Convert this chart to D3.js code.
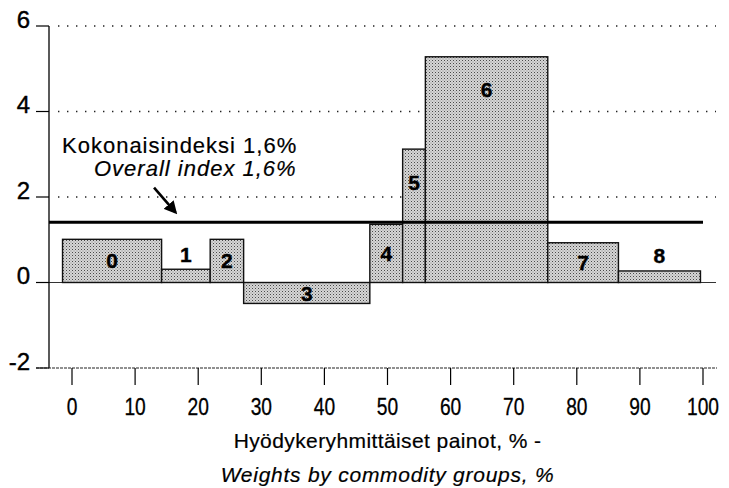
<!DOCTYPE html>
<html><head><meta charset="utf-8">
<script src="https://cdn.jsdelivr.net/npm/d3@7"></script>
<style>
html,body{margin:0;padding:0;background:#fff;}
svg{display:block;font-family:"Liberation Sans",Arial,Helvetica,sans-serif;}
</style></head>
<body>
<svg id="chart" width="729" height="488"></svg>
<script>
// ---- data ----
const groups  = ["0","1","2","3","4","5","6","7","8"];
const weights = [15.7, 7.7, 5.3, 20.0, 5.2, 3.6, 19.4, 11.2, 13.0];   // % weight (bar width)
const changes = [1.01, 0.31, 1.01, -0.49, 1.36, 3.12, 5.28, 0.93, 0.27]; // % change (bar height)
const barStart = -1.5;          // where the first bar begins on the weight axis
const overallIndex = 1.41;      // drawn level of the overall index line
const xTicks = [0,10,20,30,40,50,60,70,80,90,100];
const yTicks = [-2,0,2,4,6];
const gridValues = [2,4,6];
const annotFi = "Kokonaisindeksi  1,6%";
const annotEn = "Overall index 1,6%";
const xTitleFi = "Hyödykeryhmittäiset painot, % -";
const xTitleEn = "Weights by commodity groups, %";

// ---- layout ----
const svg = d3.select("#chart");
const x = d3.scaleLinear().domain([0,100]).range([72,703]);
const y = d3.scaleLinear().domain([-2,6]).range([368,26]);
const axisX = 49;

// stipple pattern
const defs = svg.append("defs");
const pat = defs.append("pattern").attr("id","dots").attr("patternUnits","userSpaceOnUse")
  .attr("width",3).attr("height",3);
pat.append("rect").attr("width",3).attr("height",3).attr("fill","#d6d6d6");
pat.append("rect").attr("x",0).attr("y",0).attr("width",1).attr("height",1).attr("fill","#4a4a4a");
pat.append("rect").attr("x",1.5).attr("y",1.5).attr("width",1).attr("height",1).attr("fill","#888");

// gridlines (dotted)
svg.append("g").selectAll("line").data(gridValues).join("line")
  .attr("x1",58).attr("x2",716)
  .attr("y1",d=>y(d)).attr("y2",d=>y(d))
  .attr("stroke","#222").attr("stroke-width",1.3)
  .attr("stroke-dasharray","1.4 7.6");

// bars
let acc = barStart;
const bars = groups.map((g,i)=>{ const b={g, x0:acc, x1:acc+weights[i], v:changes[i]}; acc+=weights[i]; return b; });

// zero line
svg.append("line").attr("x1",36).attr("x2",716).attr("y1",y(0)).attr("y2",y(0))
  .attr("stroke","#333").attr("stroke-width",1.2);

svg.append("g").selectAll("rect").data(bars).join("rect")
  .attr("x",d=>x(d.x0)).attr("width",d=>x(d.x1)-x(d.x0))
  .attr("y",d=>y(Math.max(0,d.v))).attr("height",d=>Math.abs(y(d.v)-y(0)))
  .attr("fill","url(#dots)").attr("stroke","#111").attr("stroke-width",1.4);

// bar labels
svg.append("g").selectAll("text").data(bars).join("text")
  .attr("x",d=>(x(d.x0)+x(d.x1))/2)
  .attr("y",d=>{
    const top=y(Math.max(0,d.v)), h=Math.abs(y(d.v)-y(0));
    if (d.v<0) return top+h/2+1;
    if (h<20) return top-15;
    return top+Math.min(h/2,33);
  })
  .attr("text-anchor","middle").attr("dominant-baseline","central")
  .attr("font-size",21).attr("font-weight","bold").attr("fill","#000")
  .attr("stroke","#000").attr("stroke-width",0.4)
  .text(d=>d.g);

// overall index line
svg.append("line").attr("x1",axisX).attr("x2",x(100))
  .attr("y1",y(overallIndex)).attr("y2",y(overallIndex))
  .attr("stroke","#000").attr("stroke-width",3);

// y axis
svg.append("line").attr("x1",axisX).attr("x2",axisX).attr("y1",y(6)).attr("y2",y(-2))
  .attr("stroke","#000").attr("stroke-width",1.3);
const yt = svg.append("g").selectAll("g").data(yTicks).join("g")
  .attr("transform",d=>`translate(0,${y(d)})`);
yt.append("line").attr("x1",36).attr("x2",axisX).attr("stroke","#000").attr("stroke-width",1.2);
yt.append("text").attr("x",30).attr("y",-7).attr("text-anchor","end")
  .attr("dominant-baseline","central").attr("font-size",24)
  .attr("stroke","#000").attr("stroke-width",0.4).text(d=>d);

// x axis (bottom, dashed baseline)
svg.append("line").attr("x1",36).attr("x2",717).attr("y1",y(-2)).attr("y2",y(-2))
  .attr("stroke","#222").attr("stroke-width",1.2).attr("stroke-dasharray","3 1");
const xt = svg.append("g").selectAll("g").data(xTicks).join("g")
  .attr("transform",d=>`translate(${x(d)},${y(-2)})`);
xt.append("line").attr("y1",0).attr("y2",17).attr("stroke","#000").attr("stroke-width",1.2);
xt.append("text").attr("y",39).attr("text-anchor","middle")
  .attr("dominant-baseline","central").attr("font-size",24)
  .attr("stroke","#000").attr("stroke-width",0.3)
  .attr("transform","scale(0.8,1)").text(d=>d);

// x titles
svg.append("text").attr("x",x(50)).attr("y",440).attr("text-anchor","middle")
  .attr("dominant-baseline","central").attr("font-size",21).attr("letter-spacing",0.4)
  .attr("stroke","#000").attr("stroke-width",0.2).text(xTitleFi);
svg.append("text").attr("x",x(50)).attr("y",474).attr("text-anchor","middle")
  .attr("dominant-baseline","central").attr("font-size",21).attr("letter-spacing",0.75)
  .attr("stroke","#000").attr("stroke-width",0.2)
  .attr("font-style","italic").text(xTitleEn);

// annotation
svg.append("text").attr("x",62).attr("y",y(3.2)).attr("dominant-baseline","central")
  .attr("font-size",22).attr("letter-spacing",1.0)
  .attr("stroke","#000").attr("stroke-width",0.2).text(annotFi);
svg.append("text").attr("x",94).attr("y",y(2.67)).attr("dominant-baseline","central")
  .attr("font-size",22).attr("letter-spacing",1.0).attr("font-style","italic")
  .attr("stroke","#000").attr("stroke-width",0.2).text(annotEn);

// arrow
defs.append("marker").attr("id","ah").attr("viewBox","0 0 10 10").attr("refX",8).attr("refY",5)
  .attr("markerWidth",5).attr("markerHeight",5).attr("orient","auto")
  .append("path").attr("d","M0,0 L10,5 L0,10 z").attr("fill","#000");
svg.append("line").attr("x1",x(13)).attr("y1",y(2.22)).attr("x2",x(16.4)).attr("y2",y(1.64))
  .attr("stroke","#000").attr("stroke-width",2.6).attr("marker-end","url(#ah)");
</script>
</body></html>
